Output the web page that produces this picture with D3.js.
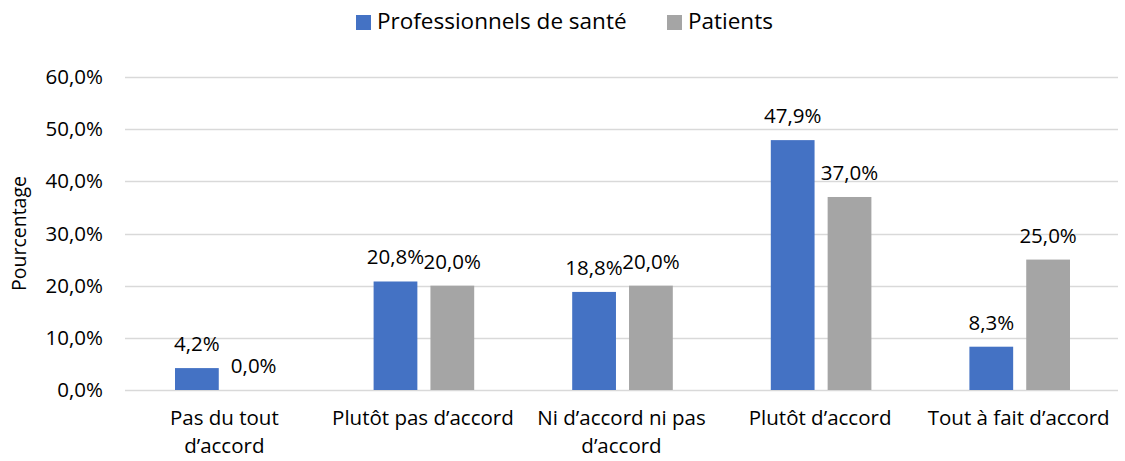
<!DOCTYPE html>
<html>
<head>
<meta charset="utf-8">
<script src="https://cdn.jsdelivr.net/npm/d3@7"></script>
<style>
  body { margin: 0; background: #fff; }
  text { font-family: "Open Sans", Lato, sans-serif; fill: #000; }
</style>
</head>
<body>
<div id="chart"></div>
<script>
var categories = [["Pas du tout", "d\u2019accord"], ["Plut\u00f4t pas d\u2019accord"], ["Ni d\u2019accord ni pas", "d\u2019accord"], ["Plut\u00f4t d\u2019accord"], ["Tout \u00e0 fait d\u2019accord"]];
var seriesNames = ["Professionnels de sant\u00e9", "Patients"];
var pros = [4.2, 20.8, 18.8, 47.9, 8.3];
var patients = [0.0, 20.0, 20.0, 37.0, 25.0];
var yTicks = [0, 10, 20, 30, 40, 50, 60];
var colors = ["#4472C4", "#A5A5A5"];

var width = 1125, height = 461;
var margin = {top: 77, right: 7, bottom: 71, left: 125};
var w = width - margin.left - margin.right,
    h = height - margin.top - margin.bottom;

var fmt = function (v) { return v.toFixed(1).replace(".", ",") + "%"; };

var svg = d3.select("#chart").append("svg")
    .attr("width", width)
    .attr("height", height);

var g = svg.append("g")
    .attr("transform", "translate(" + margin.left + "," + margin.top + ")");

var x0 = d3.scaleBand().domain(d3.range(categories.length)).range([0, w]).paddingInner(0).paddingOuter(0);
var x1 = d3.scaleBand().domain([0, 1]).range([50, x0.bandwidth() - 48]).paddingInner(0.23);
var y = d3.scaleLinear().domain([0, 60]).range([h, 0]);

// gridlines
g.append("g").selectAll("line")
    .data(yTicks)
    .enter().append("line")
    .attr("x1", 0).attr("x2", w)
    .attr("y1", function (d) { return Math.round(y(d)) + 0.5; })
    .attr("y2", function (d) { return Math.round(y(d)) + 0.5; })
    .attr("stroke", "#d9d9d9")
    .attr("stroke-width", 1.5);

// y labels
var yAxis = g.append("g").call(d3.axisLeft(y).tickValues(yTicks).tickFormat(fmt).tickSize(0).tickPadding(22));
yAxis.select(".domain").remove();
yAxis.selectAll("text").style("font-size", "20.5px").style("font-family", "'Open Sans', Lato, sans-serif").attr("fill", "#000");

svg.append("text")
    .attr("transform", "translate(26," + (margin.top + h / 2) + ") rotate(-90)")
    .attr("text-anchor", "middle")
    .style("font-size", "19.5px")
    .text("Pourcentage");

var data = [pros, patients];

var groups = g.selectAll(".cat")
    .data(categories)
    .enter().append("g")
    .attr("class", "cat")
    .attr("transform", function (d, i) { return "translate(" + x0(i) + ",0)"; });

groups.each(function (c, i) {
    var gg = d3.select(this);
    [0, 1].forEach(function (s) {
        var v = data[s][i];
        gg.append("rect")
            .attr("x", x1(s))
            .attr("y", y(v))
            .attr("width", x1.bandwidth())
            .attr("height", h - y(v))
            .attr("fill", colors[s]);
        gg.append("text")
            .attr("x", x1(s) + x1.bandwidth() / 2)
            .attr("y", y(v) - 17)
            .attr("text-anchor", "middle")
            .style("font-size", "20.5px")
            .text(fmt(v));
    });
    var t = gg.append("text")
        .attr("text-anchor", "middle")
        .style("font-size", "20.5px");
    c.forEach(function (line, k) {
        t.append("tspan")
            .attr("x", x0.bandwidth() / 2)
            .attr("y", h + 35 + k * 28)
            .text(line);
    });
});

// legend
var legend = svg.append("g");
var legX = [356, 667];
seriesNames.forEach(function (name, s) {
    legend.append("rect")
        .attr("x", legX[s]).attr("y", 15)
        .attr("width", 15).attr("height", 15)
        .attr("fill", colors[s]);
    legend.append("text")
        .attr("x", legX[s] + 21).attr("y", 29)
        .style("font-size", "22.5px")
        .text(name);
});
</script>
</body>
</html>
